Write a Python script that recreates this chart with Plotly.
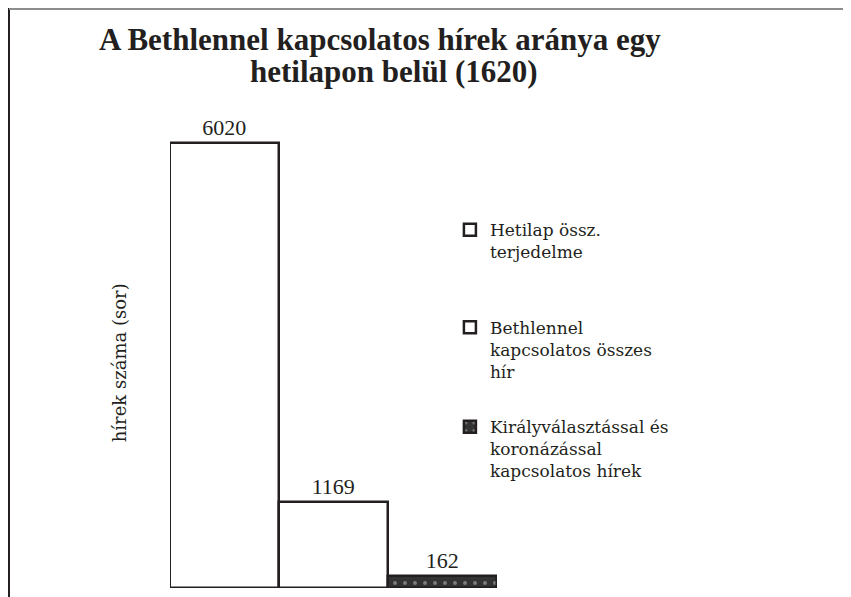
import plotly.graph_objects as go

categories = ["Hetilap össz.<br>terjedelme",
              "Bethlennel<br>kapcsolatos összes<br>hír",
              "Királyválasztással és<br>koronázással<br>kapcsolatos hírek"]
values = [6020, 1169, 162]
positions = [0, 1, 2]
title_lines = ["A Bethlennel kapcsolatos hírek aránya egy", "hetilapon belül (1620)"]
y_title = "hírek száma (sor)"

SERIF = "Liberation Serif"
SERIF2 = "DejaVu Serif"
DARK = "#231f20"

fig = go.Figure()
fills = ["white", "white", "#333333"]
legend_names = ["legend", "legend2", "legend3"]
for i, (name, v, p) in enumerate(zip(categories, values, positions)):
    marker = dict(color=fills[i], line=dict(color=DARK, width=2.5))
    if i == 2:
        marker["pattern"] = dict(shape=".", fgcolor="#c8c8c8", bgcolor="#333333",
                                 size=10, solidity=0.12)
    fig.add_trace(go.Bar(
        x=[p], y=[v], width=1, name=name, legend=legend_names[i],
        marker=marker,
        text=[str(v)], textposition="outside", cliponaxis=False,
        textfont=dict(family=SERIF, size=22, color=DARK),
    ))

# frame lines (left and top border)
fig.add_shape(type="line", xref="paper", yref="paper",
              x0=-0.4924, x1=-0.4924, y0=1.2083, y1=-0.05,
              line=dict(color=DARK, width=2))
fig.add_shape(type="line", xref="paper", yref="paper",
              x0=-0.4924, x1=2.2, y0=1.2063, y1=1.2063,
              line=dict(color="#8c8c8c", width=2))

fig.add_annotation(text=y_title, xref="paper", yref="paper",
                   x=-0.193, y=0.469, textangle=-90, showarrow=False,
                   font=dict(family=SERIF2, size=18, color=DARK))

fig.add_annotation(text="<b>" + title_lines[0] + "</b>", xref="paper", yref="paper",
                   x=0.6422, y=1.142, xanchor="center", yanchor="middle", showarrow=False,
                   font=dict(family=SERIF, size=31, color=DARK))
fig.add_annotation(text="<b>" + title_lines[1] + "</b>", xref="paper", yref="paper",
                   x=0.685, y=1.076, xanchor="center", yanchor="middle", showarrow=False,
                   font=dict(family=SERIF, size=31, color=DARK))

leg_common = dict(xanchor="left", yanchor="top",
                  font=dict(family=SERIF2, size=17, color=DARK),
                  valign="top", bgcolor="rgba(0,0,0,0)", itemwidth=30)

fig.update_layout(
    width=851, height=597,
    margin=dict(l=162, r=362, t=100, b=17),
    paper_bgcolor="white", plot_bgcolor="white",
    bargap=0,
    showlegend=True,
    legend=dict(x=0.856, y=0.783, **leg_common),
    legend2=dict(x=0.856, y=0.58, **leg_common),
    legend3=dict(x=0.856, y=0.3727, **leg_common),
    xaxis=dict(range=[-0.5, 2.5], visible=False, fixedrange=True),
    yaxis=dict(range=[0, 6493], visible=False, fixedrange=True),
)

fig.write_html("out.html")
